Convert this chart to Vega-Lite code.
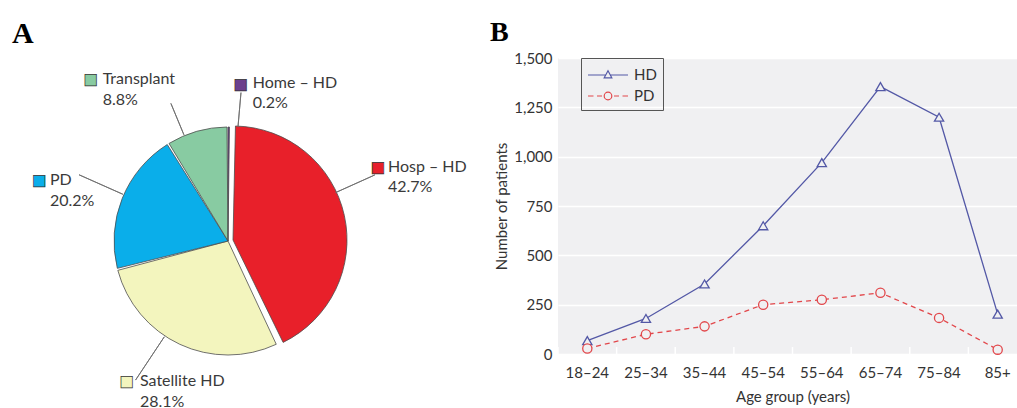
{
  "$schema": "https://vega.github.io/schema/vega-lite/v6.json",
  "padding": {"top": 18, "left": 0, "right": 0, "bottom": 0},
  "background": "white",
  "bounds": "flush",
  "spacing": 102,
  "resolve": {"scale": {"color": "independent", "stroke": "independent", "shape": "independent", "strokeDash": "independent", "opacity": "independent", "strokeOpacity": "independent"}, "legend": {"color": "independent", "shape": "independent"}},
  "config": {"font": "Lato", "view": {"stroke": null}},
  "hconcat": [
    {
      "width": 456,
      "height": 350,
      "view": {"stroke": null},
      "title": {"text": "A", "anchor": "start", "frame": "group", "font": "Liberation Serif", "fontSize": 30, "fontWeight": "bold", "color": "#000", "dx": 12, "offset": -14.7, "baseline": "alphabetic"},
      "data": {"values": [
        {"category": "Home – HD", "share": 0.002, "order": 1},
        {"category": "Hosp – HD", "share": 0.427, "order": 2},
        {"category": "Satellite HD", "share": 0.281, "order": 3},
        {"category": "PD", "share": 0.202, "order": 4},
        {"category": "Transplant", "share": 0.088, "order": 5}
      ]},
      "encoding": {
        "theta": {"field": "share", "type": "quantitative", "stack": true},
        "order": {"field": "order", "type": "quantitative"}
      },
      "layer": [
        {"mark": {"type": "arc", "radius": 114, "padAngle": 0.018, "stroke": "#4d4d4d", "strokeWidth": 0.8, "yOffset": 8},
         "encoding": {
           "color": {"field": "category", "type": "nominal", "scale": {"domain": ["Home – HD", "Hosp – HD", "Satellite HD", "PD", "Transplant"], "range": ["#6b3f8e", "#e8202a", "#f3f5be", "#0aaeea", "#88cba2"]}, "legend": null},
           "opacity": {"condition": {"test": "datum.category === 'Hosp – HD' || datum.category === 'Home – HD'", "value": 0}, "value": 1}}},
        {"mark": {"type": "arc", "radius": 114, "padAngle": 0.018, "stroke": "#4d4d4d", "strokeWidth": 0.8, "xOffset": 5, "yOffset": 7},
         "encoding": {
           "color": {"field": "category", "type": "nominal", "legend": null},
           "opacity": {"condition": {"test": "datum.category === 'Hosp – HD'", "value": 1}, "value": 0}}},
        {"mark": {"type": "arc", "radius": 114, "padAngle": 0, "stroke": "#4d4d4d", "strokeWidth": 0.8, "yOffset": 8},
         "encoding": {
           "color": {"field": "category", "type": "nominal", "legend": null},
           "opacity": {"condition": {"test": "datum.category === 'Home – HD'", "value": 1}, "value": 0}}},
        {"mark": {"type": "arc", "radius": 149, "radius2": 115, "padAngle": 3.14, "thetaOffset": 0.081, "theta2Offset": 0.081, "fill": "transparent", "stroke": "#6e6e6e", "strokeWidth": 0.9, "yOffset": 8},
         "encoding": {"strokeOpacity": {"condition": {"test": "datum.category === 'Home – HD'", "value": 1}, "value": 0}}},
        {"mark": {"type": "arc", "radius": 161, "radius2": 118, "padAngle": 3.14, "thetaOffset": -0.206, "theta2Offset": -0.206, "fill": "transparent", "stroke": "#6e6e6e", "strokeWidth": 0.9, "yOffset": 8},
         "encoding": {"strokeOpacity": {"condition": {"test": "datum.category === 'Hosp – HD'", "value": 1}, "value": 0}}},
        {"mark": {"type": "arc", "radius": 167, "radius2": 115, "padAngle": 3.14, "thetaOffset": 0.15, "theta2Offset": 0.15, "fill": "transparent", "stroke": "#6e6e6e", "strokeWidth": 0.9, "yOffset": 8},
         "encoding": {"strokeOpacity": {"condition": {"test": "datum.category === 'Satellite HD'", "value": 1}, "value": 0}}},
        {"mark": {"type": "arc", "radius": 163, "radius2": 115, "padAngle": 3.14, "thetaOffset": 0.035, "theta2Offset": 0.035, "fill": "transparent", "stroke": "#6e6e6e", "strokeWidth": 0.9, "yOffset": 8},
         "encoding": {"strokeOpacity": {"condition": {"test": "datum.category === 'PD'", "value": 1}, "value": 0}}},
        {"mark": {"type": "arc", "radius": 149, "radius2": 115, "padAngle": 3.14, "thetaOffset": -0.117, "theta2Offset": -0.117, "fill": "transparent", "stroke": "#6e6e6e", "strokeWidth": 0.9, "yOffset": 8},
         "encoding": {"strokeOpacity": {"condition": {"test": "datum.category === 'Transplant'", "value": 1}, "value": 0}}},

        {"mark": {"type": "text", "radius": 113, "dx": -106.5, "dy": -45.3, "align": "center", "baseline": "middle", "font": "DejaVu Sans", "fontSize": 15, "stroke": "#333", "strokeWidth": 0.7},
         "encoding": {"text": {"condition": {"test": "datum.category === 'Transplant'", "value": "■"}, "value": ""}, "color": {"field": "category", "type": "nominal", "legend": null}}},
        {"mark": {"type": "text", "radius": 113, "dx": -94.5, "dy": -45.3, "align": "left", "baseline": "middle", "fontSize": 16, "color": "#3a3a3a"},
         "encoding": {"text": {"condition": {"test": "datum.category === 'Transplant'", "field": "category", "type": "nominal"}, "value": ""}}},
        {"mark": {"type": "text", "radius": 113, "dx": -94.5, "dy": -24.3, "align": "left", "baseline": "middle", "fontSize": 16, "color": "#3a3a3a"},
         "encoding": {"text": {"condition": {"test": "datum.category === 'Transplant'", "field": "share", "type": "quantitative", "format": ".1%"}, "value": ""}}},

        {"mark": {"type": "text", "radius": 113, "dx": 11.8, "dy": -36.5, "align": "center", "baseline": "middle", "font": "DejaVu Sans", "fontSize": 15, "stroke": "#333", "strokeWidth": 0.7},
         "encoding": {"text": {"condition": {"test": "datum.category === 'Home – HD'", "value": "■"}, "value": ""}, "color": {"field": "category", "type": "nominal", "legend": null}}},
        {"mark": {"type": "text", "radius": 113, "dx": 24, "dy": -37, "align": "left", "baseline": "middle", "fontSize": 16, "color": "#3a3a3a"},
         "encoding": {"text": {"condition": {"test": "datum.category === 'Home – HD'", "field": "category", "type": "nominal"}, "value": ""}}},
        {"mark": {"type": "text", "radius": 113, "dx": 24, "dy": -17, "align": "left", "baseline": "middle", "fontSize": 16, "color": "#3a3a3a"},
         "encoding": {"text": {"condition": {"test": "datum.category === 'Home – HD'", "field": "share", "type": "quantitative", "format": ".1%"}, "value": ""}}},

        {"mark": {"type": "text", "radius": 113, "dx": 39.6, "dy": -41.7, "align": "center", "baseline": "middle", "font": "DejaVu Sans", "fontSize": 15, "stroke": "#333", "strokeWidth": 0.7},
         "encoding": {"text": {"condition": {"test": "datum.category === 'Hosp – HD'", "value": "■"}, "value": ""}, "color": {"field": "category", "type": "nominal", "legend": null}}},
        {"mark": {"type": "text", "radius": 113, "dx": 49.6, "dy": -41.7, "align": "left", "baseline": "middle", "fontSize": 16, "color": "#3a3a3a"},
         "encoding": {"text": {"condition": {"test": "datum.category === 'Hosp – HD'", "field": "category", "type": "nominal"}, "value": ""}}},
        {"mark": {"type": "text", "radius": 113, "dx": 49.6, "dy": -21.7, "align": "left", "baseline": "middle", "fontSize": 16, "color": "#3a3a3a"},
         "encoding": {"text": {"condition": {"test": "datum.category === 'Hosp – HD'", "field": "share", "type": "quantitative", "format": ".1%"}, "value": ""}}},

        {"mark": {"type": "text", "radius": 113, "dx": -84.2, "dy": -10.7, "align": "center", "baseline": "middle", "font": "DejaVu Sans", "fontSize": 15, "stroke": "#333", "strokeWidth": 0.7},
         "encoding": {"text": {"condition": {"test": "datum.category === 'PD'", "value": "■"}, "value": ""}, "color": {"field": "category", "type": "nominal", "legend": null}}},
        {"mark": {"type": "text", "radius": 113, "dx": -73.2, "dy": -10.7, "align": "left", "baseline": "middle", "fontSize": 16, "color": "#3a3a3a"},
         "encoding": {"text": {"condition": {"test": "datum.category === 'PD'", "field": "category", "type": "nominal"}, "value": ""}}},
        {"mark": {"type": "text", "radius": 113, "dx": -73.2, "dy": 10.3, "align": "left", "baseline": "middle", "fontSize": 16, "color": "#3a3a3a"},
         "encoding": {"text": {"condition": {"test": "datum.category === 'PD'", "field": "share", "type": "quantitative", "format": ".1%"}, "value": ""}}},

        {"mark": {"type": "text", "radius": 113, "dx": -53.5, "dy": 46.1, "align": "center", "baseline": "middle", "font": "DejaVu Sans", "fontSize": 15, "stroke": "#333", "strokeWidth": 0.7},
         "encoding": {"text": {"condition": {"test": "datum.category === 'Satellite HD'", "value": "■"}, "value": ""}, "color": {"field": "category", "type": "nominal", "legend": null}}},
        {"mark": {"type": "text", "radius": 113, "dx": -40.2, "dy": 45.6, "align": "left", "baseline": "middle", "fontSize": 16, "color": "#3a3a3a"},
         "encoding": {"text": {"condition": {"test": "datum.category === 'Satellite HD'", "field": "category", "type": "nominal"}, "value": ""}}},
        {"mark": {"type": "text", "radius": 113, "dx": -40.2, "dy": 66.6, "align": "left", "baseline": "middle", "fontSize": 16, "color": "#3a3a3a"},
         "encoding": {"text": {"condition": {"test": "datum.category === 'Satellite HD'", "field": "share", "type": "quantitative", "format": ".1%"}, "value": ""}}}
      ]
    },
    {
      "width": 459,
      "height": 296,
      "view": {"fill": "#f0f0f2", "stroke": null},
      "title": {"text": "B", "anchor": "start", "frame": "group", "font": "Liberation Serif", "fontSize": 28, "fontWeight": "bold", "color": "#000", "dx": -68, "offset": -17.5, "baseline": "alphabetic"},
      "data": {"values": [
        {"age": "18–24", "series": "HD", "patients": 68},
        {"age": "25–34", "series": "HD", "patients": 180},
        {"age": "35–44", "series": "HD", "patients": 355},
        {"age": "45–54", "series": "HD", "patients": 650},
        {"age": "55–64", "series": "HD", "patients": 970},
        {"age": "65–74", "series": "HD", "patients": 1355},
        {"age": "75–84", "series": "HD", "patients": 1200},
        {"age": "85+", "series": "HD", "patients": 202},
        {"age": "18–24", "series": "PD", "patients": 28},
        {"age": "25–34", "series": "PD", "patients": 100},
        {"age": "35–44", "series": "PD", "patients": 140},
        {"age": "45–54", "series": "PD", "patients": 250},
        {"age": "55–64", "series": "PD", "patients": 275},
        {"age": "65–74", "series": "PD", "patients": 310},
        {"age": "75–84", "series": "PD", "patients": 183},
        {"age": "85+", "series": "PD", "patients": 22}
      ]},
      "encoding": {
        "x": {"field": "age", "type": "ordinal", "sort": ["18–24", "25–34", "35–44", "45–54", "55–64", "65–74", "75–84", "85+"],
              "scale": {"type": "band", "paddingInner": 0, "paddingOuter": 0, "range": [0, 469]},
              "axis": {"title": "Age group (years)", "labelAngle": 0, "ticks": false, "domain": false, "grid": false, "labelFont": "Lato", "labelFontSize": 15, "labelColor": "#333", "labelPadding": 11, "titleFont": "Lato", "titleFontSize": 15, "titleFontWeight": "normal", "titleColor": "#333", "titlePadding": 9}},
        "y": {"field": "patients", "type": "quantitative", "scale": {"domain": [0, 1500], "nice": false},
              "axis": {"title": "Number of patients", "values": [0, 250, 500, 750, 1000, 1250, 1500], "format": ",.0f", "ticks": false, "domain": false, "grid": true, "gridColor": "#ffffff", "gridWidth": 1.6, "labelFont": "Lato", "labelFontSize": 15, "labelColor": "#333", "labelPadding": 6, "titleFont": "Lato", "titleFontSize": 15, "titleFontWeight": "normal", "titleColor": "#333", "titlePadding": 4}}
      },
      "layer": [
        {"transform": [{"filter": "datum.series === 'HD'"}],
         "mark": {"type": "rule", "color": "#ffffff", "strokeWidth": 1.5},
         "encoding": {
           "x": {"field": "age", "type": "ordinal", "sort": ["18–24", "25–34", "35–44", "45–54", "55–64", "65–74", "75–84", "85+"], "bandPosition": 0},
           "y": {"datum": 0},
           "y2": {"datum": 35}}},
        {"transform": [{"filter": "datum.series === 'HD'"}],
         "mark": {"type": "line", "color": "#5358a6", "strokeWidth": 1.3}},
        {"transform": [{"filter": "datum.series === 'PD'"}],
         "mark": {"type": "line", "color": "#e2474b", "strokeWidth": 1.3, "strokeDash": [5, 4]}},
        {"transform": [{"filter": "datum.series === 'HD'"}],
         "mark": {"type": "point", "shape": "triangle-up", "filled": false, "fill": "#f0f0f2", "stroke": "#5358a6", "size": 85, "strokeWidth": 1.3, "opacity": 1}},
        {"transform": [{"filter": "datum.series === 'PD'"}],
         "mark": {"type": "point", "shape": "circle", "filled": false, "fill": "#f0f0f2", "stroke": "#e2474b", "size": 85, "strokeWidth": 1.3, "opacity": 1}},
        {"transform": [{"filter": "false"}],
         "mark": {"type": "point", "filled": false, "size": 400, "strokeWidth": 1.2, "opacity": 1},
         "encoding": {
           "color": {"field": "series", "type": "nominal", "scale": {"domain": ["HD", "PD"], "range": ["#5358a6", "#e2474b"]},
                     "legend": {"orient": "none", "legendX": 23, "legendY": 0, "title": null, "symbolSize": 400, "symbolStrokeWidth": 1.2, "symbolOffset": 10, "labelFont": "Lato", "labelFontSize": 15, "labelColor": "#333", "labelOffset": 15, "strokeColor": "#555", "padding": 6, "rowPadding": 2}},
           "shape": {"field": "series", "type": "nominal", "scale": {"domain": ["HD", "PD"], "range": ["M-2,0H-0.22M0.22,0H2M0,-0.42L0.38,0.28L-0.38,0.28Z", "M-2,0H-1.45M-1.1,0H-0.6M0.6,0H1.1M1.45,0H2M0.38,0A0.38,0.38,0,1,1,-0.38,0A0.38,0.38,0,1,1,0.38,0Z"]},
                     "legend": {"orient": "none", "legendX": 23, "legendY": 0, "title": null, "symbolSize": 400, "symbolStrokeWidth": 1.2, "symbolOffset": 10, "labelFont": "Lato", "labelFontSize": 15, "labelColor": "#333", "labelOffset": 15, "strokeColor": "#555", "padding": 6, "rowPadding": 2}}}}
      ]
    }
  ]
}
